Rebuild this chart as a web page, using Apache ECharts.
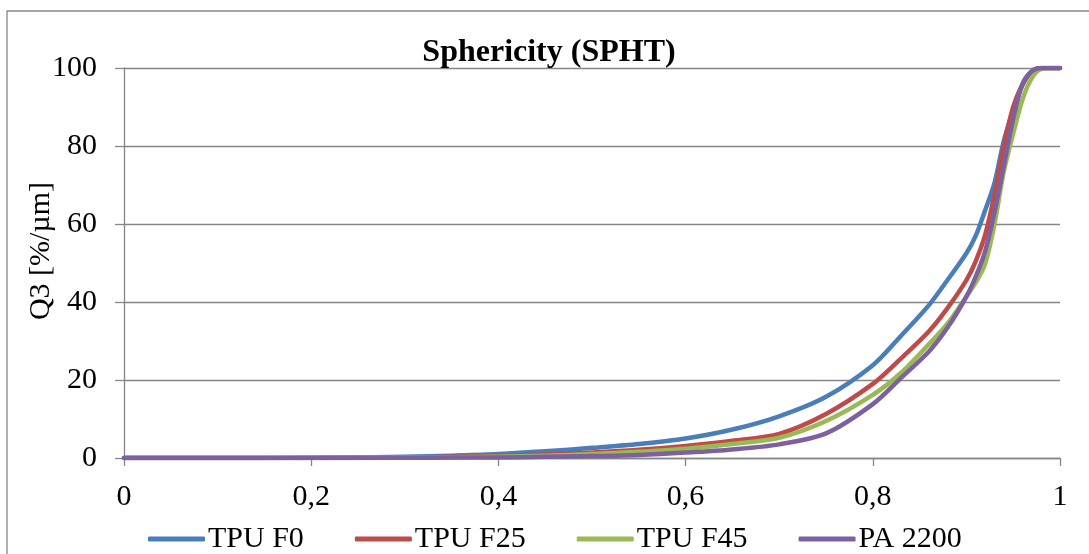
<!DOCTYPE html>
<html>
<head>
<meta charset="utf-8">
<script src="https://cdn.jsdelivr.net/npm/echarts@6/dist/echarts.min.js"></script>
<style>html,body{margin:0;padding:0;background:#fff;}#c{width:1089px;height:554px;}</style>
</head>
<body>
<div id="c"></div>
<script>
var seriesNames = ['TPU F0', 'TPU F25', 'TPU F45', 'PA 2200'];
var xs = [0, 0.1, 0.2, 0.3, 0.35, 0.4, 0.45, 0.5, 0.55, 0.6, 0.65, 0.7, 0.75, 0.8, 0.83, 0.86, 0.88, 0.9, 0.91, 0.92, 0.93, 0.94, 0.95, 0.96, 0.97, 0.98, 0.99, 1.0];
var tpuF0  = [0, 0, 0.05, 0.3, 0.6, 1.0, 1.7, 2.6, 3.6, 5.0, 7.3, 10.7, 15.7, 23.8, 31.3, 39.2, 45.7, 52.5, 57.0, 63.5, 70.5, 81.3, 89.2, 95.7, 99.2, 100, 100, 100];
var tpuF25 = [0, 0, 0.02, 0.15, 0.3, 0.5, 0.9, 1.4, 2.1, 3.1, 4.4, 6.2, 11.3, 19.0, 25.5, 32.5, 38.5, 45.6, 50.5, 57.2, 67.5, 80.0, 90.0, 95.8, 99.0, 100, 100, 100];
var tpuF45 = [0, 0, 0.02, 0.1, 0.2, 0.35, 0.6, 1.0, 1.6, 2.4, 3.6, 5.2, 9.5, 16.2, 21.8, 29.2, 34.5, 41.4, 45.0, 49.8, 60.0, 73.5, 83.2, 92.0, 97.5, 99.8, 100, 100];
var pa2200 = [0, 0, 0, 0.05, 0.1, 0.15, 0.3, 0.5, 0.8, 1.4, 2.2, 3.5, 6.3, 13.8, 20.5, 27.3, 33.5, 41.4, 46.5, 53.0, 63.0, 75.0, 87.0, 96.0, 99.2, 100, 100, 100];
var colors = ['#4A7EBB', '#BE4B48', '#98B954', '#7D60A0'];
var xTicks = [0, 0.2, 0.4, 0.6, 0.8, 1];
var yTicks = [0, 20, 40, 60, 80, 100];

var allY = [tpuF0, tpuF25, tpuF45, pa2200];
function pairs(ys) { return xs.map(function (x, i) { return [x, ys[i]]; }); }

var FONT = '"Liberation Serif", "Times New Roman", serif';
var chart = echarts.init(document.getElementById('c'));
chart.setOption({
  animation: false,
  backgroundColor: '#fff',
  title: {
    text: 'Sphericity (SPHT)',
    left: 544, top: 32, textAlign: 'center',
    textStyle: { fontFamily: FONT, fontSize: 32, fontWeight: 'bold', color: '#000' }
  },
  graphic: [
    { type: 'rect', shape: { x: 7, y: 11, width: 1200, height: 700 }, style: { fill: 'none', stroke: '#888', lineWidth: 1.3 }, silent: true },
    { type: 'text', x: 41, y: 251, rotation: Math.PI / 2,
      style: { text: 'Q3 [%/µm]', font: '30px ' + FONT, fill: '#000', textAlign: 'center', textVerticalAlign: 'middle' } }
  ],
  legend: {
    left: 143, top: 519,
    itemWidth: 57, itemHeight: 5, itemGap: 51,
    icon: 'roundRect',
    textStyle: { fontFamily: FONT, fontSize: 30, color: '#000', padding: [0, 0, 0, -2] },
    data: seriesNames
  },
  grid: { left: 124, right: 29, top: 68, bottom: 96, containLabel: false },
  xAxis: {
    type: 'value', min: 0, max: 1, interval: 0.2,
    axisLine: { show: true, lineStyle: { color: '#868686', width: 1.3 } },
    axisTick: { show: true, length: 8, lineStyle: { color: '#868686', width: 1.3 } },
    splitLine: { show: false },
    axisLabel: {
      margin: 24, fontFamily: FONT, fontSize: 30, color: '#000',
      formatter: function (v) { return String(Math.round(v * 10) / 10).replace('.', ','); }
    }
  },
  yAxis: {
    type: 'value', min: 0, max: 100, interval: 20,
    axisLine: { show: true, lineStyle: { color: '#868686', width: 1.3 } },
    axisTick: { show: true, length: 9, lineStyle: { color: '#868686', width: 1.3 } },
    splitLine: { show: true, lineStyle: { color: '#868686', width: 1.3 } },
    axisLabel: { margin: 27, fontFamily: FONT, fontSize: 30, color: '#000' }
  },
  series: seriesNames.map(function (n, i) {
    return {
      name: n, type: 'line', data: pairs(allY[i]),
      showSymbol: false, symbol: 'none',
      smooth: 0.3,
      lineStyle: { color: colors[i], width: 4.5, join: 'round', cap: 'round' },
      itemStyle: { color: colors[i] },
      z: 2 + i
    };
  })
});
</script>
</body>
</html>
